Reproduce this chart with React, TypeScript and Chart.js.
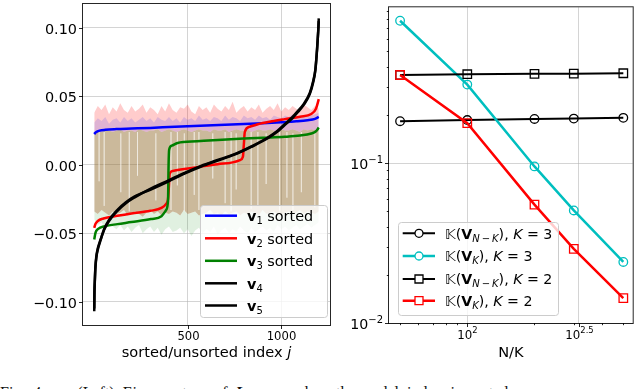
import React, { useEffect, useRef } from "react";
import { Chart, registerables } from "chart.js";
Chart.register(...registerables);

const FONT = "'DejaVu Sans', 'Noto Sans', sans-serif";
const GRID = "rgba(176,176,176,0.55)";
const SPINE = "rgba(0,0,0,0.85)";

// ---------------- Left panel data ----------------
const leftYTicks = [-0.1, -0.05, 0, 0.05, 0.1];
const leftXTicks = [500, 1000];

// sorted eigenvectors (index j, value)
const v1Idx = [1, 10, 30, 60, 120, 200, 300, 400, 500, 600, 700, 800, 900, 1000, 1080, 1140, 1180, 1200];
const v1Sorted = [0.0225, 0.0238, 0.025, 0.0256, 0.0261, 0.0265, 0.027, 0.0276, 0.0282, 0.0288, 0.0293, 0.0298, 0.0304, 0.0311, 0.0318, 0.0326, 0.0336, 0.035];

const v2Idx = [1, 8, 20, 50, 125, 200, 300, 360, 385, 395, 400, 404, 420, 482, 560, 660, 740, 780, 795, 800, 805, 830, 875, 950, 1018, 1100, 1160, 1185, 1200];
const v2Sorted = [-0.046, -0.043, -0.041, -0.0392, -0.0372, -0.0355, -0.0336, -0.0315, -0.0285, -0.025, -0.015, -0.0065, -0.0045, -0.0031, -0.0015, 0.0005, 0.0018, 0.0035, 0.006, 0.015, 0.024, 0.0278, 0.0297, 0.0318, 0.0334, 0.0352, 0.0372, 0.041, 0.048];

const v3Idx = [1, 8, 20, 60, 125, 200, 304, 360, 385, 395, 398, 401, 415, 446, 550, 661, 800, 900, 1018, 1100, 1160, 1185, 1200];
const v3Sorted = [-0.0545, -0.0495, -0.047, -0.0448, -0.0433, -0.0418, -0.0396, -0.0375, -0.033, -0.026, 0.0, 0.011, 0.014, 0.016, 0.0172, 0.0182, 0.0192, 0.0198, 0.0205, 0.0214, 0.0229, 0.0245, 0.0272];

const v4Idx = [1, 2, 4, 7, 12, 20, 35, 54, 80, 125, 170, 215, 300, 393, 480, 572, 660, 750, 840, 928, 980, 1018, 1060, 1089, 1120, 1152, 1170, 1182, 1191, 1197, 1200];
const v4Vals = [-0.107, -0.095, -0.086, -0.076, -0.068, -0.062, -0.055, -0.0475, -0.041, -0.0336, -0.028, -0.0239, -0.0175, -0.0117, -0.006, -0.0007, 0.0035, 0.0078, 0.0135, 0.02, 0.025, 0.0297, 0.035, 0.0394, 0.0445, 0.0525, 0.061, 0.07, 0.085, 0.098, 0.107];
const v5Vals = [-0.105, -0.093, -0.085, -0.075, -0.067, -0.061, -0.0545, -0.0468, -0.0402, -0.0328, -0.0273, -0.0232, -0.0182, -0.0124, -0.0066, -0.0012, 0.0031, 0.0074, 0.0131, 0.0194, 0.0243, 0.029, 0.0342, 0.0386, 0.0438, 0.0517, 0.0602, 0.0692, 0.0842, 0.0972, 0.105];

// unsorted eigenvector clouds (envelope edges)
const noiseIdx = [1, 20, 40, 60, 80, 100, 120, 140, 160, 180, 200, 220, 240, 260, 280, 300, 320, 340, 360, 380, 400, 420, 440, 460, 480, 500, 520, 540, 560, 580, 600, 620, 640, 660, 680, 700, 720, 740, 760, 780, 800, 820, 840, 860, 880, 900, 920, 940, 960, 980, 1000, 1020, 1040, 1060, 1080, 1100, 1120, 1140, 1160, 1180, 1200];
const v2UnsortedTop = [
  0.038, 0.043, 0.040, 0.044, 0.037, 0.042, 0.039, 0.045, 0.040, 0.038,
  0.043, 0.039, 0.041, 0.044, 0.038, 0.042, 0.040, 0.037, 0.043, 0.039,
  0.045, 0.040, 0.038, 0.042, 0.041, 0.044, 0.039, 0.037, 0.043, 0.040,
  0.042, 0.038, 0.044, 0.041, 0.039, 0.043, 0.040, 0.046, 0.038, 0.041,
  0.043, 0.039, 0.042, 0.040, 0.044, 0.038, 0.041, 0.043, 0.040, 0.045,
  0.039, 0.042, 0.040, 0.043, 0.041, 0.039, 0.044, 0.042, 0.040, 0.043, 0.041];
const v1UnsortedTop = [
  0.031, 0.034, 0.032, 0.035, 0.030, 0.033, 0.034, 0.031, 0.035, 0.032,
  0.034, 0.031, 0.033, 0.035, 0.032, 0.034, 0.031, 0.035, 0.033, 0.032,
  0.035, 0.032, 0.034, 0.031, 0.035, 0.033, 0.034, 0.032, 0.036, 0.033,
  0.034, 0.032, 0.035, 0.034, 0.032, 0.036, 0.033, 0.035, 0.034, 0.032,
  0.036, 0.034, 0.035, 0.033, 0.036, 0.034, 0.035, 0.033, 0.036, 0.035,
  0.034, 0.036, 0.035, 0.037, 0.034, 0.036, 0.035, 0.037, 0.036, 0.037, 0.038];
const mixTop = [
  0.024, 0.025, 0.024, 0.026, 0.025, 0.024, 0.025, 0.026, 0.024, 0.025,
  0.025, 0.024, 0.026, 0.025, 0.024, 0.025, 0.025, 0.026, 0.024, 0.025,
  0.026, 0.025, 0.024, 0.025, 0.026, 0.025, 0.024, 0.025, 0.026, 0.025,
  0.025, 0.024, 0.026, 0.025, 0.025, 0.026, 0.024, 0.025, 0.026, 0.025,
  0.025, 0.026, 0.024, 0.025, 0.026, 0.025, 0.025, 0.026, 0.025, 0.024,
  0.026, 0.025, 0.025, 0.026, 0.025, 0.024, 0.026, 0.025, 0.026, 0.025, 0.026];
const mixBottom = [
  -0.034, -0.036, -0.033, -0.035, -0.037, -0.034, -0.036, -0.035, -0.033, -0.037,
  -0.035, -0.034, -0.036, -0.038, -0.035, -0.033, -0.036, -0.034, -0.037, -0.035,
  -0.036, -0.034, -0.035, -0.037, -0.033, -0.036, -0.035, -0.034, -0.037, -0.036,
  -0.035, -0.033, -0.036, -0.035, -0.037, -0.034, -0.036, -0.035, -0.034, -0.037,
  -0.035, -0.036, -0.034, -0.035, -0.037, -0.033, -0.036, -0.035, -0.034, -0.036,
  -0.037, -0.035, -0.034, -0.036, -0.035, -0.033, -0.036, -0.034, -0.035, -0.036, -0.034];
const v3UnsortedBottom = [
  -0.040, -0.044, -0.042, -0.046, -0.043, -0.045, -0.047, -0.044, -0.048, -0.045,
  -0.049, -0.046, -0.044, -0.050, -0.047, -0.045, -0.049, -0.046, -0.051, -0.047,
  -0.045, -0.049, -0.048, -0.046, -0.050, -0.047, -0.052, -0.048, -0.046, -0.050,
  -0.047, -0.049, -0.045, -0.051, -0.048, -0.046, -0.050, -0.047, -0.049, -0.045,
  -0.048, -0.050, -0.046, -0.049, -0.047, -0.045, -0.048, -0.046, -0.049, -0.044,
  -0.047, -0.045, -0.048, -0.046, -0.044, -0.047, -0.045, -0.043, -0.046, -0.044, -0.042];

// light gaps (indices where the unsorted entries leave pale streaks)
const gapIdx = [27, 54, 143, 188, 232, 330, 411, 445, 482, 535, 560, 634, 700, 732, 759, 839, 875, 919, 991, 1030, 1062, 1107, 1179];
const gapTop = [0.024, 0.024, 0.023, 0.024, 0.024, 0.023, 0.024, 0.024, 0.023, 0.024, 0.024, 0.023, 0.024, 0.024, 0.023, 0.024, 0.024, 0.023, 0.024, 0.024, 0.023, 0.024, 0.024];
const gapLow = [-0.012, -0.030, -0.020, -0.034, -0.008, -0.026, -0.033, -0.015, -0.034, -0.022, -0.033, -0.010, -0.028, -0.034, -0.018, -0.032, -0.030, -0.014, -0.034, -0.024, -0.033, -0.020, -0.031];

// ---------------- Right panel data ----------------
const nOverK = [50, 100, 200, 300, 500];
const kNmK3 = [0.183, 0.186, 0.189, 0.19, 0.192];
const kK3 = [0.778, 0.31, 0.0954, 0.0506, 0.0241];
const kNmK2 = [0.356, 0.36, 0.362, 0.363, 0.365];
const kK2 = [0.356, 0.178, 0.055, 0.0291, 0.0143];
const rightXMajor = [100, 316.227766];
const rightXMinor = [50, 60, 70, 80, 90, 200, 300, 400, 500];
const rightYMajor = [0.01, 0.1];
const rightYMinor = [0.02, 0.03, 0.04, 0.05, 0.06, 0.07, 0.08, 0.09, 0.2, 0.3, 0.4, 0.5, 0.6, 0.7, 0.8, 0.9];

type Run = { t: string; font: string; dy?: number };

function runsWidth(ctx: CanvasRenderingContext2D, runs: Run[]) {
  let w = 0;
  for (const r of runs) { ctx.font = r.font; w += ctx.measureText(r.t).width; }
  return w;
}
function drawRuns(ctx: CanvasRenderingContext2D, x: number, baseline: number, runs: Run[]) {
  let cx = x;
  for (const r of runs) {
    ctx.font = r.font;
    ctx.fillText(r.t, cx, baseline + (r.dy || 0));
    cx += ctx.measureText(r.t).width;
  }
}
function legendBox(ctx: CanvasRenderingContext2D, x: number, y: number, w: number, h: number) {
  ctx.save();
  ctx.beginPath();
  (ctx as any).roundRect(x + 0.5, y + 0.5, w, h, 3);
  ctx.fillStyle = "rgba(255,255,255,0.8)";
  ctx.fill();
  ctx.strokeStyle = "rgb(204,204,204)";
  ctx.lineWidth = 1;
  ctx.stroke();
  ctx.restore();
}
function f(size: number, style = "") {
  return `${style} ${size}px ${FONT}`.trim();
}
function pts(xs: number[], ys: number[]) {
  return xs.map((x, i) => ({ x, y: ys[i] }));
}
function gapSegments() {
  const out: any[] = [];
  gapIdx.forEach((j, i) => {
    out.push({ x: j, y: gapTop[i] });
    out.push({ x: j, y: gapLow[i] });
    out.push({ x: j, y: null });
  });
  return out;
}

const leftDecor = {
  id: "leftDecor",
  afterDraw(chart: any) {
    const { ctx, chartArea: a } = chart;
    const xs = chart.scales.x, ys = chart.scales.y;
    ctx.save();
    ctx.strokeStyle = SPINE;
    ctx.lineWidth = 1;
    ctx.strokeRect(a.left - 0.5, a.top - 0.5, a.right - a.left + 1, a.bottom - a.top + 1);
    ctx.fillStyle = "#000";
    ctx.textAlign = "right";
    ctx.textBaseline = "alphabetic";
    ctx.font = f(14.4);
    for (const v of leftYTicks) {
      const py = Math.round(ys.getPixelForValue(v)) + 0.5;
      ctx.beginPath(); ctx.moveTo(a.left - 4, py); ctx.lineTo(a.left, py); ctx.stroke();
      const s = Math.abs(v) < 1e-9 ? "0.00" : (v < 0 ? "\u2212" : "") + Math.abs(v).toFixed(2);
      ctx.fillText(s, a.left - 6, py + 5.2);
    }
    ctx.textAlign = "center";
    ctx.font = f(11.6);
    for (const v of leftXTicks) {
      const px = Math.round(xs.getPixelForValue(v)) + 0.5;
      ctx.beginPath(); ctx.moveTo(px, a.bottom); ctx.lineTo(px, a.bottom + 4); ctx.stroke();
      ctx.fillText(String(v), px, 339.5);
    }
    const title: Run[] = [
      { t: "sorted/unsorted index ", font: f(14.6) },
      { t: "j", font: f(14.6, "italic") },
    ];
    ctx.textAlign = "left";
    const tw = runsWidth(ctx, title);
    drawRuns(ctx, (a.left + a.right) / 2 - tw / 2, 356.5, title);

    legendBox(ctx, 200, 205, 127, 112);
    const rows = [
      { c: "rgb(0,0,255)", sub: "1", rest: " sorted", y: 215.7 },
      { c: "rgb(255,0,0)", sub: "2", rest: " sorted", y: 238.3 },
      { c: "rgb(0,128,0)", sub: "3", rest: " sorted", y: 260.8 },
      { c: "#000", sub: "4", rest: "", y: 283.3 },
      { c: "#000", sub: "5", rest: "", y: 305.5 },
    ];
    for (const r of rows) {
      ctx.strokeStyle = r.c;
      ctx.lineWidth = 2.5;
      ctx.beginPath(); ctx.moveTo(205, r.y); ctx.lineTo(237, r.y); ctx.stroke();
      ctx.fillStyle = "#000";
      drawRuns(ctx, 247, r.y + 5.2, [
        { t: "v", font: f(14.4, "bold") },
        { t: r.sub, font: f(10), dy: 3 },
        { t: r.rest, font: f(14.4) },
      ]);
    }
    ctx.restore();
  },
};

const rightDecor = {
  id: "rightDecor",
  afterDraw(chart: any) {
    const { ctx, chartArea: a } = chart;
    const xs = chart.scales.x, ys = chart.scales.y;
    ctx.save();
    ctx.strokeStyle = SPINE;
    ctx.lineWidth = 1;
    ctx.strokeRect(a.left - 0.5, a.top - 0.5, a.right - a.left + 1, a.bottom - a.top + 1);
    ctx.fillStyle = "#000";
    for (const v of rightYMajor) {
      const py = Math.round(ys.getPixelForValue(v)) + 0.5;
      ctx.beginPath(); ctx.moveTo(a.left - 4, py); ctx.lineTo(a.left, py); ctx.stroke();
      const exp = v === 0.1 ? "\u22121" : "\u22122";
      ctx.font = f(14.2);
      const w10 = ctx.measureText("10").width;
      ctx.font = f(10);
      const we = ctx.measureText(exp).width;
      const right = a.left - 6;
      ctx.textAlign = "left";
      ctx.font = f(14.2);
      ctx.fillText("10", right - w10 - we, py + 5.3);
      ctx.font = f(10);
      ctx.fillText(exp, right - we, py - 0.8);
    }
    for (const v of rightYMinor) {
      if (v > ys.max) continue;
      const py = Math.round(ys.getPixelForValue(v)) + 0.5;
      ctx.beginPath(); ctx.moveTo(a.left - 2.2, py); ctx.lineTo(a.left, py); ctx.stroke();
    }
    for (const v of rightXMajor) {
      const px = Math.round(xs.getPixelForValue(v)) + 0.5;
      ctx.beginPath(); ctx.moveTo(px, a.bottom); ctx.lineTo(px, a.bottom + 4); ctx.stroke();
      const exp = v === 100 ? "2" : "2.5";
      ctx.font = f(11.8);
      const w10 = ctx.measureText("10").width;
      ctx.font = f(8.4);
      const we = ctx.measureText(exp).width;
      const x0 = px - (w10 + we) / 2;
      ctx.font = f(11.8);
      ctx.fillText("10", x0, 338.5);
      ctx.font = f(8.4);
      ctx.fillText(exp, x0 + w10, 333);
    }
    for (const v of rightXMinor) {
      const px = Math.round(xs.getPixelForValue(v)) + 0.5;
      ctx.beginPath(); ctx.moveTo(px, a.bottom); ctx.lineTo(px, a.bottom + 2.2); ctx.stroke();
    }
    ctx.font = f(14.6);
    ctx.textAlign = "center";
    ctx.fillText("N/K", (a.left + a.right) / 2, 357);
    ctx.textAlign = "left";

    const ox = 336;
    legendBox(ctx, 398 - ox, 222, 160, 93);
    const rows = [
      { c: "#000", lw: 2, m: "circle", sub: "N\u2009\u2212\u2009K", k: "3", y: 233.3 },
      { c: "rgb(0,191,191)", lw: 2.5, m: "circle", sub: "K", k: "3", y: 256 },
      { c: "#000", lw: 2, m: "rect", sub: "N\u2009\u2212\u2009K", k: "2", y: 279 },
      { c: "rgb(255,0,0)", lw: 2.5, m: "rect", sub: "K", k: "2", y: 300.7 },
    ];
    for (const r of rows) {
      ctx.strokeStyle = r.c;
      ctx.lineWidth = r.lw;
      ctx.beginPath(); ctx.moveTo(402.7 - ox, r.y); ctx.lineTo(435 - ox, r.y); ctx.stroke();
      ctx.lineWidth = 1.3;
      ctx.fillStyle = "#fff";
      const mx = 419 - ox;
      ctx.beginPath();
      if (r.m === "circle") ctx.arc(mx, r.y, 4, 0, Math.PI * 2);
      else ctx.rect(mx - 4, r.y - 4, 8, 8);
      ctx.fill();
      ctx.stroke();
      ctx.fillStyle = "#000";
      drawRuns(ctx, 445 - ox, r.y + 5.2, [
        { t: "\u{1D542}", font: f(14.2) },
        { t: "(", font: f(14.2) },
        { t: "V", font: f(14.2, "bold") },
        { t: r.sub, font: f(10, "italic"), dy: 3 },
        { t: "), ", font: f(14.2) },
        { t: "K", font: f(14.2, "italic") },
        { t: " = ", font: f(14.2) },
        { t: r.k, font: f(14.2) },
      ]);
    }
    ctx.restore();
  },
};

function band(label: string, vals: number[], fillTarget: number | false, color: string, order: number) {
  return {
    label,
    data: pts(noiseIdx, vals),
    borderColor: "rgba(0,0,0,0)",
    borderWidth: 0,
    pointRadius: 0,
    fill: fillTarget === false ? false : fillTarget,
    backgroundColor: color,
    tension: 0,
    order,
  };
}
function sorted(label: string, idx: number[], vals: number[], color: string, order: number) {
  return {
    label,
    data: pts(idx, vals),
    borderColor: color,
    borderWidth: 2.5,
    pointRadius: 0,
    fill: false,
    cubicInterpolationMode: "monotone",
    order,
  };
}

export default function App() {
  const leftRef = useRef<HTMLCanvasElement>(null);
  const rightRef = useRef<HTMLCanvasElement>(null);

  useEffect(() => {
    const common = {
      animation: false as const,
      responsive: false,
      devicePixelRatio: 1,
      events: [] as any[],
      plugins: { legend: { display: false }, tooltip: { enabled: false }, title: { display: false } },
    };

    const left = new Chart(leftRef.current!, {
      type: "line",
      data: {
        datasets: [
          sorted("v1 sorted", v1Idx, v1Sorted, "rgb(0,0,255)", 4),
          sorted("v2 sorted", v2Idx, v2Sorted, "rgb(255,0,0)", 3),
          sorted("v3 sorted", v3Idx, v3Sorted, "rgb(0,128,0)", 2),
          sorted("v4", v4Idx, v4Vals, "#000", 1),
          sorted("v5", v4Idx, v5Vals, "#000", 0),
          band("v3 unsorted low", v3UnsortedBottom, false, "rgba(0,0,0,0)", 20),
          band("v3 unsorted", mixBottom, 5, "rgba(0,128,0,0.12)", 19),
          band("unsorted mix", mixTop, 6, "rgba(151,115,55,0.5)", 18),
          band("v2 unsorted", v2UnsortedTop, 7, "rgba(255,0,0,0.2)", 17),
          band("v1 unsorted", v1UnsortedTop, 7, "rgba(0,0,255,0.13)", 16),
          {
            label: "gaps", data: gapSegments(), borderColor: "rgba(255,255,255,0.32)", borderWidth: 1,
            pointRadius: 0, fill: false, spanGaps: false, tension: 0, order: 15,
          },
        ] as any,
      },
      options: {
        ...common,
        layout: { padding: { left: 0, right: 6, top: 4, bottom: 0 } },
        scales: {
          x: {
            type: "linear",
            min: -59,
            max: 1260,
            afterFit: (s: any) => { s.height = 40; },
            afterBuildTicks: (s: any) => { s.ticks = leftXTicks.map((value) => ({ value })); },
            ticks: { display: false },
            grid: { color: GRID, lineWidth: 1, drawTicks: false },
            border: { display: false },
          },
          y: {
            type: "linear",
            min: -0.117,
            max: 0.1175,
            afterFit: (s: any) => { s.width = 83; },
            afterBuildTicks: (s: any) => { s.ticks = leftYTicks.map((value) => ({ value })); },
            ticks: { display: false },
            grid: { color: GRID, lineWidth: 1, drawTicks: false },
            border: { display: false },
          },
        },
      } as any,
      plugins: [leftDecor],
    });

    const right = new Chart(rightRef.current!, {
      type: "line",
      data: {
        datasets: [
          {
            label: "K(V_K), K=2", data: pts(nOverK, kK2), borderColor: "rgb(255,0,0)", borderWidth: 2.5,
            pointStyle: "rect", pointRadius: 6, pointBorderWidth: 1.3, pointBorderColor: "rgb(255,0,0)",
            pointBackgroundColor: "rgba(0,0,0,0)", order: 0,
          },
          {
            label: "K(V_{N-K}), K=2", data: pts(nOverK, kNmK2), borderColor: "#000", borderWidth: 2,
            pointStyle: "rect", pointRadius: 6, pointBorderWidth: 1.3, pointBorderColor: "#000",
            pointBackgroundColor: "rgba(0,0,0,0)", order: 1,
          },
          {
            label: "K(V_K), K=3", data: pts(nOverK, kK3), borderColor: "rgb(0,191,191)", borderWidth: 2.5,
            pointStyle: "circle", pointRadius: 4.3, pointBorderWidth: 1.3, pointBorderColor: "rgb(0,191,191)",
            pointBackgroundColor: "rgba(0,0,0,0)", order: 2,
          },
          {
            label: "K(V_{N-K}), K=3", data: pts(nOverK, kNmK3), borderColor: "#000", borderWidth: 2,
            pointStyle: "circle", pointRadius: 4.3, pointBorderWidth: 1.3, pointBorderColor: "#000",
            pointBackgroundColor: "rgba(0,0,0,0)", order: 3,
          },
        ] as any,
      },
      options: {
        ...common,
        layout: { padding: { left: 0, right: 2, top: 1, bottom: 0 } },
        scales: {
          x: {
            type: "logarithmic",
            min: 44.6,
            max: 550.8,
            afterFit: (s: any) => { s.height = 42; },
            afterBuildTicks: (s: any) => { s.ticks = rightXMajor.map((value) => ({ value })); },
            ticks: { display: false },
            grid: { color: GRID, lineWidth: 1, drawTicks: false },
            border: { display: false },
          },
          y: {
            type: "logarithmic",
            min: 0.01,
            max: 0.944,
            afterFit: (s: any) => { s.width = 53; },
            afterBuildTicks: (s: any) => { s.ticks = rightYMajor.map((value) => ({ value })); },
            ticks: { display: false },
            grid: { color: GRID, lineWidth: 1, drawTicks: false },
            border: { display: false },
          },
        },
      } as any,
      plugins: [rightDecor],
    });

    return () => {
      left.destroy();
      right.destroy();
    };
  }, []);

  return (
    <div style={{ position: "absolute", left: 0, top: 0, width: 640, height: 389, overflow: "hidden", background: "#fff" }}>
      <canvas ref={leftRef} width={336} height={365} style={{ position: "absolute", left: 0, top: 0, width: 336, height: 365 }} />
      <canvas ref={rightRef} width={304} height={365} style={{ position: "absolute", left: 336, top: 0, width: 304, height: 365 }} />
      <div
        style={{
          position: "absolute", left: 0, top: 385, width: 640, whiteSpace: "nowrap",
          font: "16px/16px 'Liberation Serif', 'DejaVu Serif', serif", color: "#111", wordSpacing: "4px",
        }}
      >
        Fig. 4.&nbsp;&nbsp;&nbsp; (Left) Eigenvectors of <b><i>L</i></b>&nbsp;&nbsp;&nbsp;&nbsp;&nbsp; when the nodal index is sorted
      </div>
    </div>
  );
}
